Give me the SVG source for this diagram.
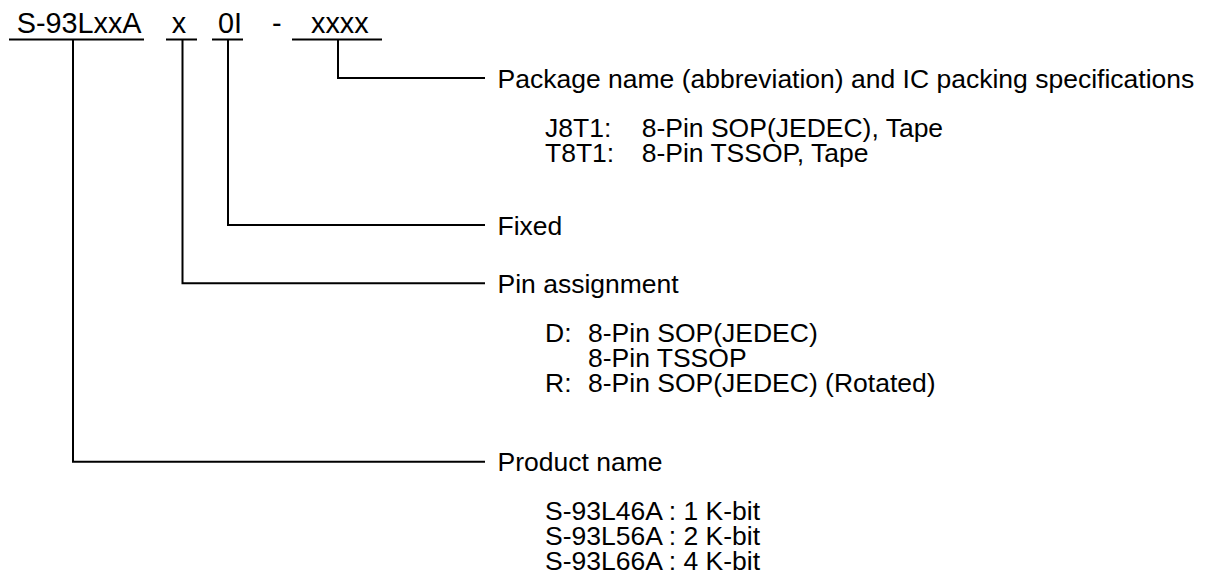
<svg xmlns="http://www.w3.org/2000/svg" width="1209" height="586" viewBox="0 0 1209 586">
<style>
text{font-family:"Liberation Sans",Arial,sans-serif;fill:#000}
.code{font-size:28.8px}
.lbl{font-size:26.5px}
.sub{font-size:26.5px}
.ln{stroke:#000;stroke-width:2;fill:none}
</style>
<rect width="1209" height="586" fill="#fff"/>
<g id="code">
<text class="code" x="16.7" y="32.7">S-93LxxA</text>
<text class="code" x="171.7" y="32.7">x</text>
<text class="code" x="218" y="32.7">0I</text>
<text class="code" x="272" y="32.7">-</text>
<text class="code" x="311" y="32.7">xxxx</text>
</g>
<g id="connectors">
<path class="ln" d="M9,39.5H144M166,39.5H197M212,39.5H243M292,39.5H382"/>
<path class="ln" d="M338,39.5V78H485"/>
<path class="ln" d="M228,39.5V225H485"/>
<path class="ln" d="M182.5,39.5V283.3H485"/>
<path class="ln" d="M73,39.5V461.7H485"/>
</g>
<g id="package">
<text class="lbl" x="497.5" y="87.5">Package name (abbreviation) and IC packing specifications</text>
<text class="sub" x="545" y="136.5">J8T1:</text><text class="sub" x="641.7" y="136.5">8-Pin SOP(JEDEC), Tape</text>
<text class="sub" x="545" y="161.5">T8T1:</text><text class="sub" x="641.7" y="161.5">8-Pin TSSOP, Tape</text>
</g>
<g id="fixed">
<text class="lbl" x="497.5" y="234.5">Fixed</text>
</g>
<g id="pin">
<text class="lbl" x="497.5" y="293">Pin assignment</text>
<text class="sub" x="545" y="342">D:</text><text class="sub" x="588" y="342">8-Pin SOP(JEDEC)</text>
<text class="sub" x="588" y="367">8-Pin TSSOP</text>
<text class="sub" x="545" y="392">R:</text><text class="sub" x="588" y="392">8-Pin SOP(JEDEC) (Rotated)</text>
</g>
<g id="product">
<text class="lbl" x="497.5" y="471">Product name</text>
<text class="sub" x="545" y="520">S-93L46A : 1 K-bit</text>
<text class="sub" x="545" y="545">S-93L56A : 2 K-bit</text>
<text class="sub" x="545" y="570">S-93L66A : 4 K-bit</text>
</g>
</svg>
